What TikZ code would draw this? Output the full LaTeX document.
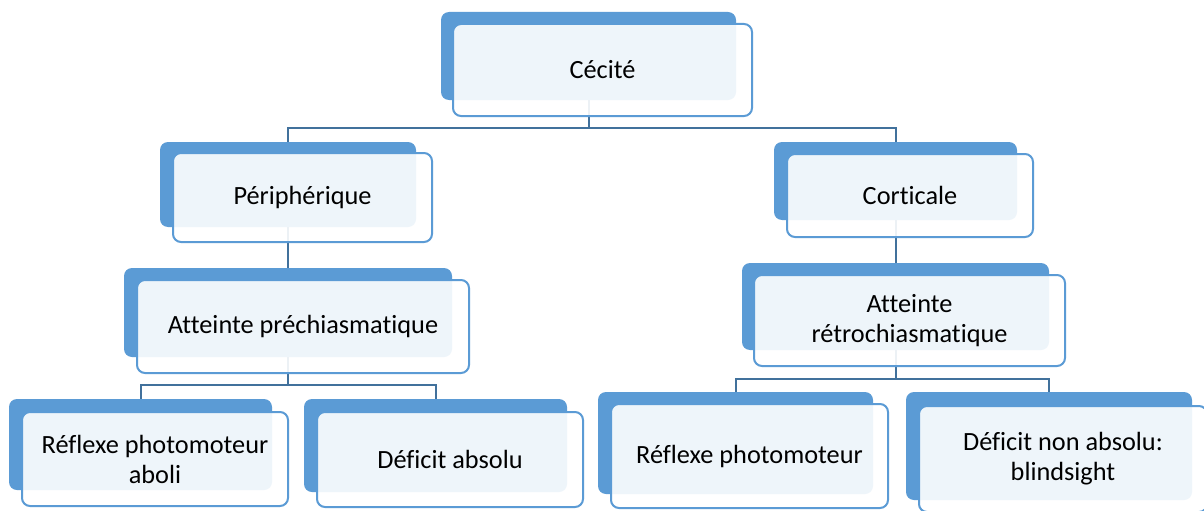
\documentclass[tikz,border=0pt]{standalone}
\usepackage{fontspec}
\setmainfont{Carlito}[Ligatures=CommonOff]
\pgfdeclarelayer{paper}
\pgfdeclarelayer{bg}
\pgfsetlayers{paper,bg,main}
\definecolor{boxblue}{RGB}{91,155,213}
\definecolor{linkblue}{RGB}{65,113,156}
\tikzset{
  backbox/.style={rectangle, fill=boxblue, draw=none, rounded corners=8pt, inner sep=0pt, outer sep=0pt},
  frontbox/.style={rectangle, draw=boxblue, line width=2pt, fill=white, fill opacity=0.9, text opacity=1,
    rounded corners=8pt, inner sep=2pt, outer sep=0pt, align=center, text=black,
    font=\fontsize{26.3}{30}\selectfont},
  conn/.style={draw=linkblue, line width=2pt}
}
\newcommand\mkback[5]{%
  \node[backbox, minimum width={#4-#2}, minimum height={#5-#3}] (#1) at ({(#2+#4)/2},{(#3+#5)/2}) {};}
\newcommand\mkfront[6]{%
  \node[frontbox, minimum width={#4-#2}, minimum height={#5-#3}] (#1) at ({(#2+#4)/2},{(#3+#5)/2}) {#6};}
\begin{document}
\begin{tikzpicture}[x=1pt,y=-1pt]
\useasboundingbox (0,0) rectangle (1204,511);
\begin{pgfonlayer}{paper}
\fill[white] (0,0) rectangle (1204,511);
\end{pgfonlayer}
\mkback{cecb}{441}{12}{736}{100}
\mkfront{cec}{453}{24}{752}{116}{Cécité}
\mkback{perb}{160}{142}{416}{227}
\mkfront{per}{173}{153}{432}{242}{Périphérique}
\mkback{corb}{774}{142}{1017}{220}
\mkfront{cor}{787}{154}{1033}{237}{Corticale}
\mkback{atpb}{124}{268}{452}{357}
\mkfront{atp}{137}{280}{469}{373}{Atteinte préchiasmatique}
\mkback{atrb}{742}{263}{1049}{350}
\mkfront{atr}{754}{275}{1065}{366}{Atteinte\\rétrochiasmatique}
\mkback{rpab}{9}{399}{272}{490}
\mkfront{rpa}{22}{412}{288}{506}{Réflexe photomoteur\\aboli}
\mkback{dabb}{304}{399}{567}{492}
\mkfront{dab}{317}{412}{583}{507}{Déficit absolu}
\mkback{rpb}{598}{392}{873}{494}
\mkfront{rp}{611}{404}{888}{508}{Réflexe photomoteur}
\mkback{dnab}{906}{392}{1192}{500}
\mkfront{dna}{919}{406}{1207}{512}{Déficit non absolu:\\blindsight}
\begin{pgfonlayer}{bg}
\draw[conn] (cecb.south) -- ++(0,28) coordinate (j1) -| (perb.north);
\draw[conn] (j1) -| (corb.north);
\draw[conn] (perb.south) -- (atpb.north);
\draw[conn] (corb.south) -- (corb.south |- atrb.north);
\draw[conn] (atpb.south) -- ++(0,28) coordinate (j2) -| (rpab.north);
\draw[conn] (j2) -| (dabb.north);
\draw[conn] (atrb.south) -- ++(0,29) coordinate (j3) -| (rpb.north);
\draw[conn] (j3) -| (dnab.north);
\end{pgfonlayer}
\end{tikzpicture}
\end{document}
